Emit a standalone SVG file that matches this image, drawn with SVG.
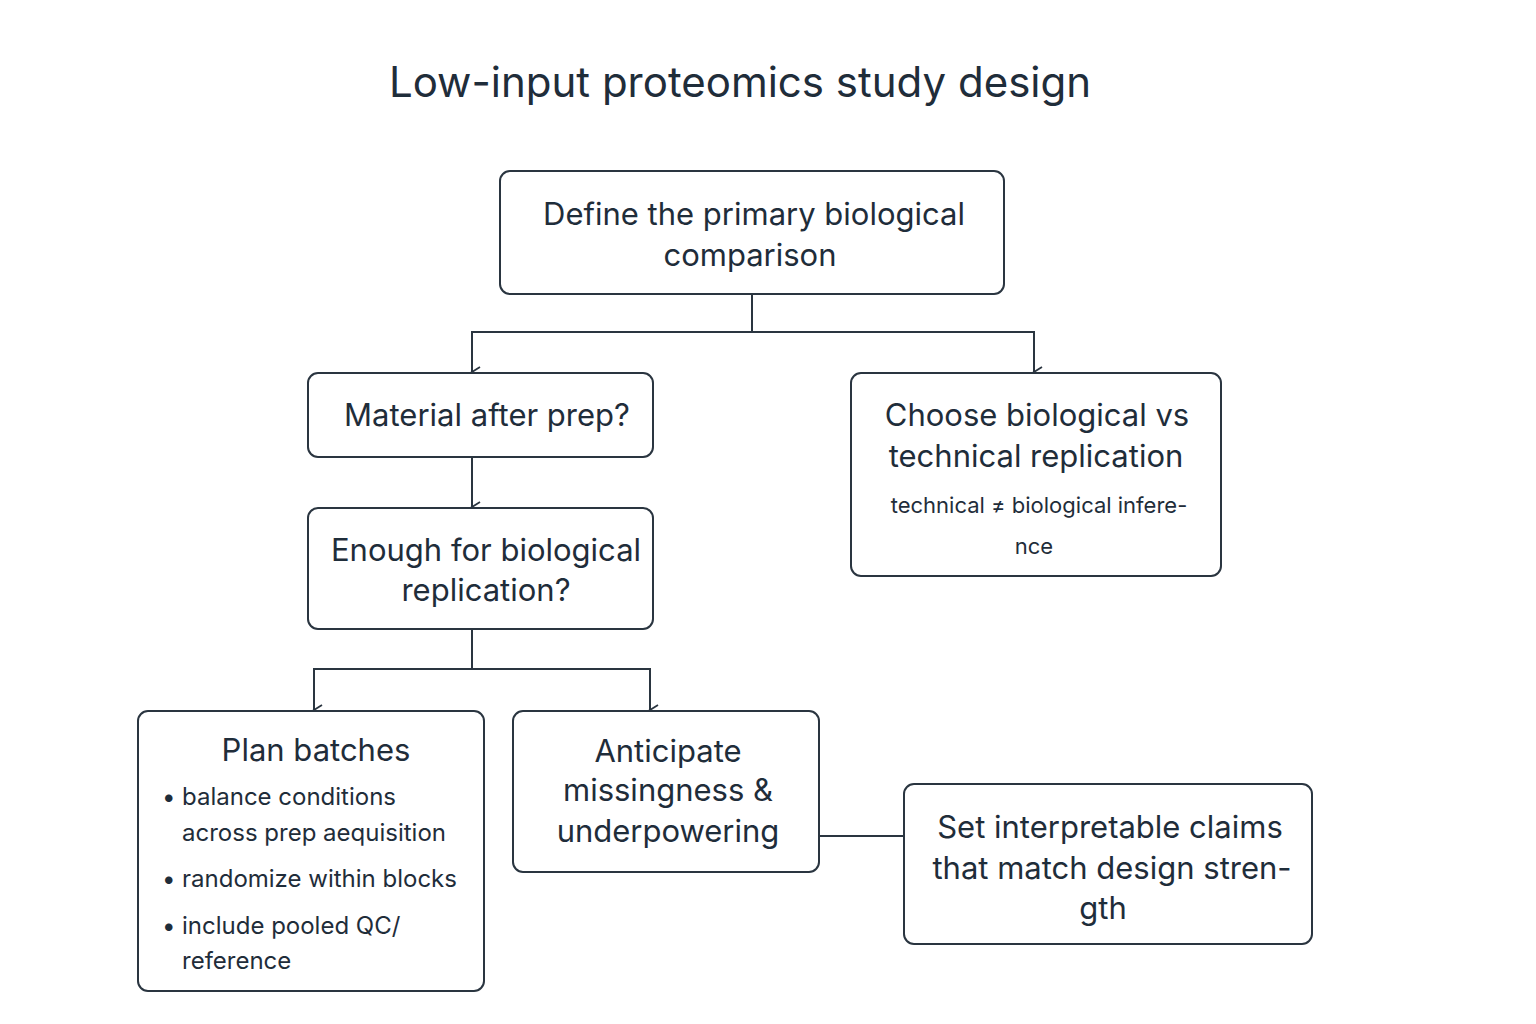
<svg xmlns="http://www.w3.org/2000/svg" width="1536" height="1024" viewBox="0 0 1536 1024">
<style>
.n{fill:#fff;stroke:#2a3540;stroke-width:2}
text{font-family:Inter,"Noto Sans",sans-serif;fill:#1f2d3a}
.t{font-size:31px;text-anchor:middle}
.b{font-size:24px}
.s{font-size:22px;text-anchor:middle}
.c{fill:none;stroke:#2a3540;stroke-width:2}
</style>
<defs><marker id="a" markerWidth="12" markerHeight="12" refX="6" refY="10" orient="auto" markerUnits="userSpaceOnUse"><path d="M1,2 L6,10 L11,2" fill="none" stroke="#2a3540" stroke-width="1.8"/></marker></defs>
<rect width="1536" height="1024" fill="#fff"/>
<text x="740" y="97" style="font-size:42px;text-anchor:middle">Low-input proteomics study design</text>
<g id="connectors">
<path class="c" d="M752,294 V332 H472 V372" marker-end="url(#a)"/>
<path class="c" d="M752,332 H1034 V372" marker-end="url(#a)"/>
<path class="c" d="M472,457 V507" marker-end="url(#a)"/>
<path class="c" d="M472,629 V669 H314 V710" marker-end="url(#a)"/>
<path class="c" d="M472,669 H650 V710" marker-end="url(#a)"/>
<path class="c" d="M819,836 H904"/>
</g>
<g id="n1"><rect class="n" x="500" y="171" width="504" height="123" rx="10"/>
<text class="t" x="754" y="225">Define the primary biological</text><text class="t" x="750" y="266">comparison</text></g>
<g id="n2"><rect class="n" x="308" y="373" width="345" height="84" rx="10"/>
<text class="t" x="487" y="426">Material after prep?</text></g>
<g id="n3"><rect class="n" x="308" y="508" width="345" height="121" rx="10"/>
<text class="t" x="486" y="561">Enough for biological</text><text class="t" x="486" y="601">replication?</text></g>
<g id="n4"><rect class="n" x="138" y="711" width="346" height="280" rx="10"/>
<text class="t" x="316" y="761">Plan batches</text>
<text class="b" x="162" y="805">•</text><text class="b" x="182" y="805">balance conditions</text>
<text class="b" x="182" y="841">across prep aequisition</text>
<text class="b" x="162" y="887">•</text><text class="b" x="182" y="887">randomize within blocks</text>
<text class="b" x="162" y="934">•</text><text class="b" x="182" y="934">include pooled QC/</text>
<text class="b" x="182" y="969">reference</text></g>
<g id="n5"><rect class="n" x="513" y="711" width="306" height="161" rx="10"/>
<text class="t" x="668" y="762">Anticipate</text><text class="t" x="668" y="801">missingness &amp;</text><text class="t" x="668" y="842">underpowering</text></g>
<g id="n6"><rect class="n" x="851" y="373" width="370" height="203" rx="10"/>
<text class="t" x="1037" y="426">Choose biological vs</text><text class="t" x="1036" y="467">technical replication</text>
<text class="s" x="1039" y="513">technical ≠ biological infere-</text><text class="s" x="1034" y="554">nce</text></g>
<g id="n7"><rect class="n" x="904" y="784" width="408" height="160" rx="10"/>
<text class="t" x="1110" y="838">Set interpretable claims</text><text class="t" x="1112" y="879">that match design stren-</text><text class="t" x="1103" y="919">gth</text></g>
</svg>
